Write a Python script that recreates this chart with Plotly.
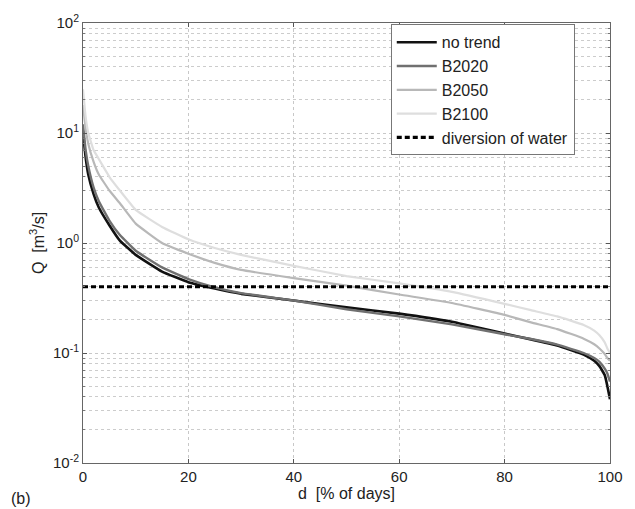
import plotly.graph_objects as go

d = [0, 0.5, 1, 2, 3, 5, 7, 10, 15, 20, 25, 30, 40, 50, 60, 70, 80, 85, 90, 95, 97, 98, 99, 99.5, 100]
q_no_trend = [10, 6, 4.2, 2.8, 2.1, 1.45, 1.05, 0.78, 0.55, 0.44, 0.385, 0.345, 0.30, 0.26, 0.228, 0.192, 0.15, 0.133, 0.117, 0.097, 0.085, 0.076, 0.063, 0.05, 0.038]
q_b2020 = [12, 7, 5, 3.2, 2.4, 1.6, 1.18, 0.85, 0.6, 0.47, 0.395, 0.35, 0.30, 0.25, 0.215, 0.182, 0.148, 0.134, 0.119, 0.1, 0.09, 0.083, 0.072, 0.065, 0.055]
q_b2050 = [18, 11, 8, 5.5, 4.2, 3.0, 2.3, 1.5, 1.0, 0.8, 0.66, 0.57, 0.48, 0.41, 0.34, 0.285, 0.222, 0.19, 0.165, 0.135, 0.12, 0.11, 0.098, 0.09, 0.085]
q_b2100 = [25, 14, 10, 7, 5.8, 4, 3.0, 2.0, 1.4, 1.08, 0.9, 0.78, 0.62, 0.5, 0.43, 0.36, 0.28, 0.245, 0.215, 0.18, 0.16, 0.145, 0.125, 0.11, 0.1]
div_x = [0, 100]
div_q = [0.4, 0.4]

y_tickvals = [0.01, 0.1, 1, 10, 100]
y_ticktext = ["10<sup>-2</sup>", "10<sup>-1</sup>", "10<sup>0</sup>", "10<sup>1</sup>", "10<sup>2</sup>"]
x_tickvals = [0, 20, 40, 60, 80, 100]

minor_vals = [m * 10 ** e for e in range(-2, 2) for m in range(2, 10)]

fig = go.Figure()
series = [
    ("no trend", q_no_trend, "#111111", 2.6),
    ("B2020", q_b2020, "#707070", 2.4),
    ("B2050", q_b2050, "#b8b8b8", 2.2),
    ("B2100", q_b2100, "#dedede", 2.2),
]
for name, q, col, w in series:
    fig.add_trace(go.Scatter(x=d, y=q, mode="lines", name=name,
                             line=dict(color=col, width=w, shape="spline", smoothing=0.3)))
fig.add_trace(go.Scatter(x=div_x, y=div_q, mode="lines", name="diversion of water",
                         line=dict(color="#000000", width=3.2, dash="5px,3px")))

fig.update_layout(
    width=635, height=509,
    margin=dict(l=83, r=13, t=16, b=46),
    paper_bgcolor="white", plot_bgcolor="white",
    font=dict(family="Liberation Sans, Arial, sans-serif", size=14, color="#222"),
    showlegend=True,
    legend=dict(x=0.584, y=0.997, xanchor="left", yanchor="top",
                bgcolor="white", bordercolor="#777", borderwidth=1,
                font=dict(size=16, color="#222"), tracegroupgap=0,
                itemwidth=40),
    annotations=[dict(text="(b)", xref="paper", yref="paper", x=-0.14, y=-0.105,
                      xanchor="left", yanchor="bottom", showarrow=False,
                      font=dict(size=16, color="#222"))],
)
fig.update_xaxes(
    range=[0, 100], tickvals=x_tickvals, ticks="inside", ticklen=4, tickcolor="#555",
    showline=True, linecolor="#666", linewidth=1, mirror="ticks",
    showgrid=True, gridcolor="#c8c8c8", griddash="dot", gridwidth=1,
    zeroline=False, tickfont=dict(size=15),
    title=dict(text="d  [% of days]", font=dict(size=16), standoff=0),
)
fig.update_yaxes(
    type="log", range=[-2, 2], tickvals=y_tickvals, ticktext=y_ticktext,
    ticks="inside", ticklen=4, tickcolor="#555",
    showline=True, linecolor="#666", linewidth=1, mirror="ticks",
    showgrid=True, gridcolor="#c8c8c8", griddash="dot", gridwidth=1,
    minor=dict(tickvals=minor_vals, showgrid=True, gridcolor="#cccccc",
               griddash="dot", ticks="inside", ticklen=2, tickcolor="#777"),
    zeroline=False, tickfont=dict(size=15),
    title=dict(text="Q  [m<sup>3</sup>/s]", font=dict(size=16), standoff=4),
)

fig.write_html("out.html")
